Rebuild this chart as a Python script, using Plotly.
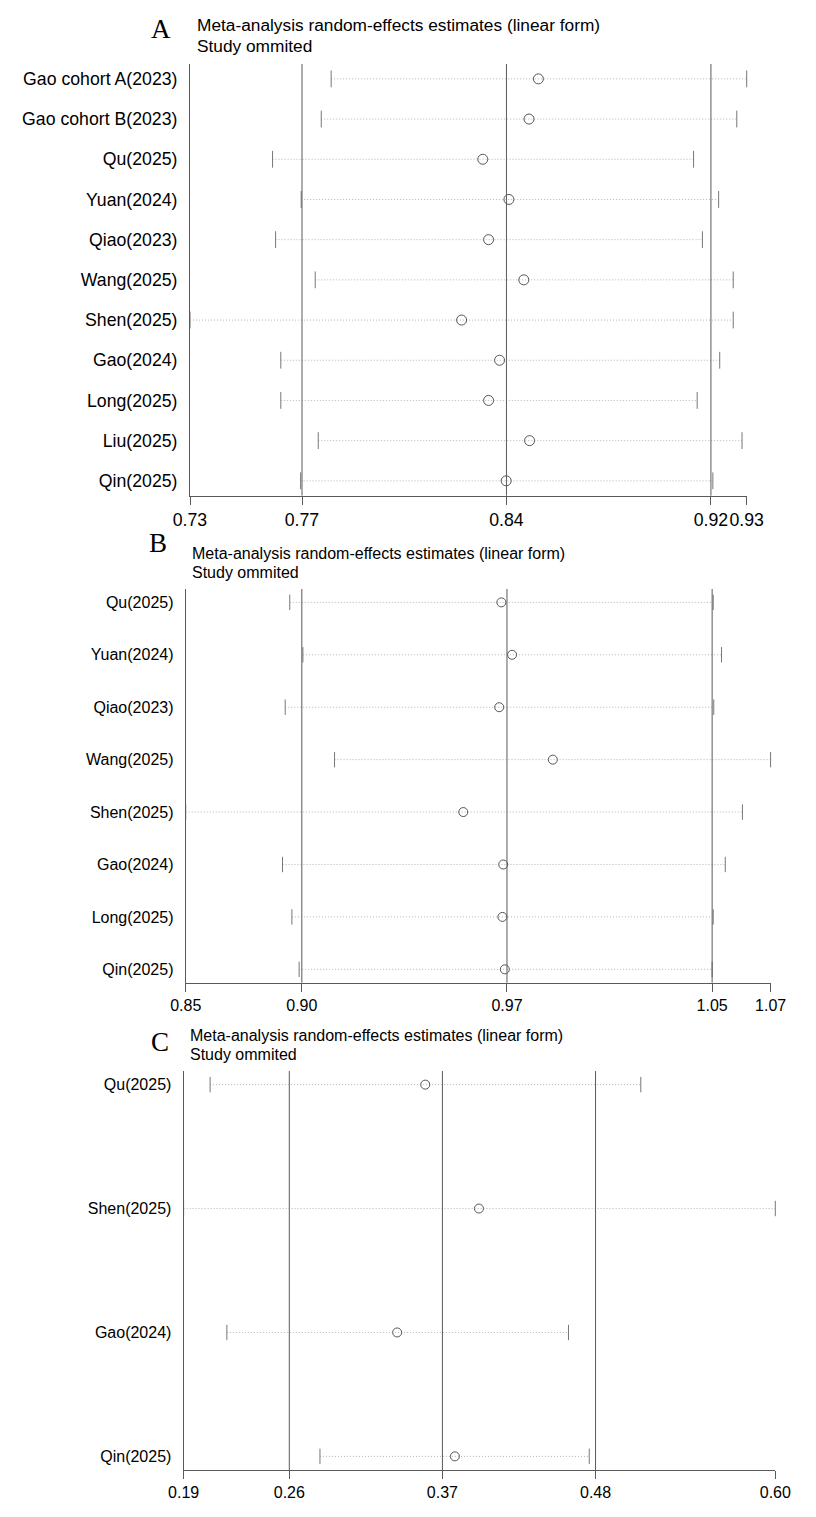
import plotly.graph_objects as go

# Panel A - leave-one-out estimates
names_a = ["Gao cohort A(2023)", "Gao cohort B(2023)", "Qu(2025)", "Yuan(2024)",
           "Qiao(2023)", "Wang(2025)", "Shen(2025)", "Gao(2024)", "Long(2025)",
           "Liu(2025)", "Qin(2025)"]
est_a = [0.8540, 0.8506, 0.8338, 0.8433, 0.8359, 0.8487, 0.8261, 0.8399, 0.8359, 0.8508, 0.8423]
lo_a = [0.7787, 0.7751, 0.7574, 0.7678, 0.7585, 0.7729, 0.7274, 0.7604, 0.7604, 0.7740, 0.7676]
hi_a = [0.9297, 0.9261, 0.9104, 0.9195, 0.9136, 0.9248, 0.9248, 0.9199, 0.9117, 0.9280, 0.9174]
pooled_a = [0.7681, 0.8424, 0.9167]

# Panel B
names_b = ["Qu(2025)", "Yuan(2024)", "Qiao(2023)", "Wang(2025)", "Shen(2025)",
           "Gao(2024)", "Long(2025)", "Qin(2025)"]
est_b = [0.9701, 0.9741, 0.9693, 0.9893, 0.9559, 0.9708, 0.9705, 0.9714]
lo_b = [0.8912, 0.8961, 0.8895, 0.9079, 0.8524, 0.8885, 0.8920, 0.8947]
hi_b = [1.0491, 1.0522, 1.0493, 1.0705, 1.0600, 1.0536, 1.0491, 1.0487]
pooled_b = [0.8957, 0.9722, 1.0487]

# Panel C
names_c = ["Qu(2025)", "Shen(2025)", "Gao(2024)", "Qin(2025)"]
est_c = [0.3580, 0.3955, 0.3384, 0.3787]
lo_c = [0.2078, 0.1893, 0.2195, 0.2845]
hi_c = [0.5085, 0.6024, 0.4580, 0.4725]
pooled_c = [0.2631, 0.3700, 0.4769]

panel_letters = ["A", "B", "C"]
title_1 = "Meta-analysis random-effects estimates (linear form)"
title_2 = "Study ommited"

W, H = 816, 1517
LINE = "#5a5a5a"
FONT = "Liberation Sans, Arial, sans-serif"

fig = go.Figure()


def px_x(v):
    return v / W


def px_y(v):
    return 1 - v / H


def add_panel(k, names, est, lo, hi, pooled, xdom, ydom, pad, fs, tfs, msize, title_x, title_y, letter_xy):
    sfx = "" if k == 1 else str(k)
    xa, ya = "x" + sfx, "y" + sfx
    rows = list(range(len(names)))

    # dotted CI lines
    wx, wy = [], []
    for r, a, b in zip(rows, lo, hi):
        wx += [a, b, None]
        wy += [r, r, None]
    fig.add_trace(go.Scatter(x=wx, y=wy, mode="lines", xaxis=xa, yaxis=ya,
                             line=dict(color="#b4b4b4", width=1, dash="1px,2px"),
                             hoverinfo="skip", showlegend=False))
    # CI end caps
    fig.add_trace(go.Scatter(x=lo + hi, y=rows + rows, mode="markers", xaxis=xa, yaxis=ya,
                             marker=dict(symbol="line-ns", size=msize + 2,
                                         line=dict(color="#777777", width=1)),
                             cliponaxis=False, hoverinfo="skip", showlegend=False))
    # point estimates
    fig.add_trace(go.Scatter(x=est, y=rows, mode="markers", xaxis=xa, yaxis=ya,
                             marker=dict(symbol="circle-open", size=msize, color="#555555",
                                         line=dict(width=1)),
                             cliponaxis=False, showlegend=False))

    xmin, xmax = min(lo), max(hi)
    tv = [xmin] + pooled + [xmax]
    for v in pooled:
        fig.add_shape(type="line", xref=xa, yref=ya + " domain", x0=v, x1=v, y0=0, y1=1,
                      line=dict(color=LINE, width=1))

    fig.update_layout(**{
        ("xaxis" + sfx): dict(
            domain=[px_x(xdom[0]), px_x(xdom[1])], anchor=ya, range=[xmin, xmax],
            automargin=False,
            showgrid=False, zeroline=False, showline=True, linecolor=LINE, linewidth=1,
            ticks="outside", ticklen=8, tickcolor=LINE, tickangle=0,
            tickvals=tv, ticktext=[f"{v:.2f}" for v in tv],
            tickfont=dict(family=FONT, size=fs, color="#000000")),
        ("yaxis" + sfx): dict(
            domain=[px_y(ydom[1]), px_y(ydom[0])], anchor=xa,
            range=[len(names) - 1 + pad, -pad], automargin=False,
            showgrid=False, zeroline=False, showline=True, linecolor=LINE, linewidth=1,
            ticks="", tickvals=rows, ticktext=names, ticklabelstandoff=8,
            tickfont=dict(family=FONT, size=fs, color="#000000")),
    })

    fig.add_annotation(xref="paper", yref="paper", x=px_x(title_x), y=px_y(title_y[0]),
                       xanchor="left", yanchor="middle", text=title_1, showarrow=False,
                       font=dict(family=FONT, size=tfs, color="#000000"))
    fig.add_annotation(xref="paper", yref="paper", x=px_x(title_x), y=px_y(title_y[1]),
                       xanchor="left", yanchor="middle", text=title_2, showarrow=False,
                       font=dict(family=FONT, size=tfs, color="#000000"))
    fig.add_annotation(xref="paper", yref="paper", x=px_x(letter_xy[0]), y=px_y(letter_xy[1]),
                       xanchor="center", yanchor="middle", text=panel_letters[k - 1],
                       showarrow=False,
                       font=dict(family="Liberation Serif, Times New Roman, serif", size=27,
                                 color="#000000"))


add_panel(1, names_a, est_a, lo_a, hi_a, pooled_a, (190, 746.7), (64, 495.7), 0.37, 17.7, 17.3, 10,
          195, (25, 46), (161, 29))
add_panel(2, names_b, est_b, lo_b, hi_b, pooled_b, (185.7, 770.6), (589, 982.7), 0.255, 16, 16, 9,
          190, (553, 572), (158, 543))
add_panel(3, names_c, est_c, lo_c, hi_c, pooled_c, (183.6, 775.3), (1071, 1470), 0.11, 16, 16, 9,
          188, (1035, 1054), (160, 1042))

fig.update_layout(template="none", width=W, height=H, autosize=False,
                  margin=dict(l=0, r=0, t=0, b=0, pad=0),
                  paper_bgcolor="white", plot_bgcolor="white",
                  showlegend=False)

fig.write_html("out.html", config={"displayModeBar": False},
               post_script="document.body.style.margin='0px';")
